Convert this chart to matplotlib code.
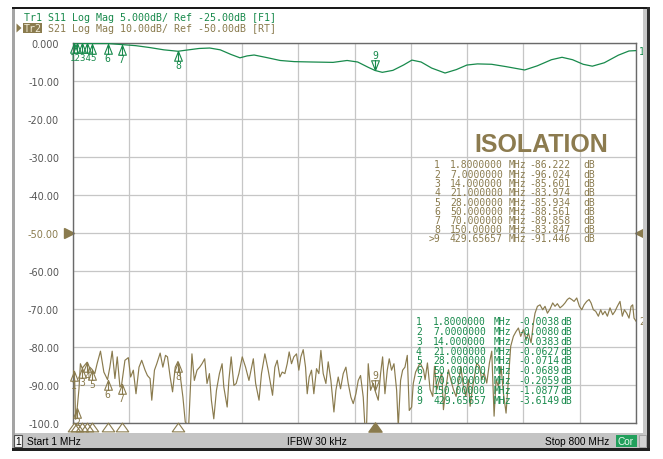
import numpy as np
import matplotlib
matplotlib.use('Agg')
import matplotlib.pyplot as plt
from matplotlib.path import Path
from matplotlib.patches import Rectangle, Polygon
import matplotlib.transforms as mtransforms

# ---------------- data ----------------
start_mhz = 1.0
stop_mhz = 800.0

y_ticks = [0, -10, -20, -30, -40, -50, -60, -70, -80, -90, -100]
y_tick_labels = ["0.000", "-10.00", "-20.00", "-30.00", "-40.00", "-50.00",
                 "-60.00", "-70.00", "-80.00", "-90.00", "-100.0"]

# S11 (Tr1, 5 dB/div, ref -25 dB)
s11_freq = [1, 1.8, 7, 14, 21, 28, 50, 70, 90, 110, 130, 150, 165, 180, 195, 210,
            225, 238, 248, 258, 275, 295, 315, 340, 370, 390, 405, 420, 429.66,
            440, 455, 470, 482, 495, 510, 529, 545, 560, 575, 595, 615, 642, 660,
            680, 695, 710, 725, 738, 755, 775, 790, 800]
s11_db = [0.0, -0.004, -0.008, -0.038, -0.063, -0.071, -0.069, -0.206, -0.35, -0.6,
          -0.9, -1.088, -0.9, -0.72, -0.66, -0.9, -1.5, -1.95, -1.7, -1.58, -1.9,
          -2.3, -2.45, -2.5, -2.55, -2.3, -2.5, -3.2, -3.615, -3.86, -3.6, -2.9,
          -2.25, -2.5, -3.3, -3.95, -3.5, -2.9, -2.75, -2.8, -3.1, -3.55, -3.0,
          -2.2, -1.88, -2.2, -2.8, -3.05, -2.6, -1.6, -1.05, -1.0]

# S21 (Tr2, 10 dB/div, ref -50 dB)
s21_freq = [1.0, 1.8, 3.4, 4.6, 7.0, 9.5, 11.5, 14.0, 17.6, 21.0, 22.6, 24.8, 28.0,
            31.9, 35.2, 40.0, 44.8, 50.0, 53.3, 56.6, 60.5, 63.8, 67.6, 70.0, 74.7,
            79.5, 82.8, 86.6, 90.4, 94.7, 98.5, 103.3, 106.6, 110.4, 112.8, 116.6,
            119.9, 124.7, 128.5, 132.3, 135.1, 138.9, 142.3, 146.1, 150.0, 152.2,
            157.0, 160.3, 165.1, 169.8, 173.2, 177.0, 180.8, 184.1, 187.9, 191.2,
            194.6, 197.4, 200.8, 204.6, 208.8, 212.6, 215.0, 219.8, 222.2, 225.5,
            229.3, 232.6, 236.4, 241.2, 245.9, 250.7, 256.9, 260.2, 265.0, 268.5,
            273.3, 278.0, 281.3, 284.2, 287.5, 290.8, 294.6, 297.9, 301.7, 305.0,
            307.8, 311.1, 314.4, 318.2, 321.5, 324.4, 327.7, 331.0, 333.4, 336.2,
            339.5, 342.8, 346.6, 349.9, 352.8, 356.1, 359.9, 363.2, 367.0, 371.3,
            374.1, 377.4, 380.7, 384.5, 388.3, 391.6, 395.4, 398.7, 402.5, 405.8,
            409.1, 412.9, 415.3, 417.6, 420.0, 423.3, 427.1, 429.66, 434.2, 437.5,
            440.4, 443.7, 447.0, 449.8, 453.1, 456.5, 460.3, 462.6, 465.9, 468.8,
            472.1, 475.4, 478.2, 481.6, 483.9, 487.2, 493.6, 498.4, 500.7, 504.0,
            507.8, 511.6, 514.0, 517.3, 521.1, 524.4, 526.7, 530.0, 533.8, 537.1,
            540.9, 544.7, 548.0, 551.3, 555.1, 558.4, 562.2, 564.6, 568.3, 571.6,
            574.0, 577.8, 581.1, 584.4, 588.2, 592.0, 595.3, 598.6, 601.4, 604.7,
            608.5, 611.8, 615.6, 618.9, 622.2, 626.0, 629.8, 633.1, 636.4, 640.2,
            644.0, 647.3, 651.1, 654.4, 656.7, 660.1, 663.8, 667.6, 670.9, 674.3,
            678.0, 681.8, 685.1, 688.4, 692.2, 696.0, 699.3, 702.6, 705.5, 708.8,
            712.1, 715.9, 719.7, 723.0, 726.3, 730.0, 733.4, 736.2, 739.5, 742.8,
            746.6, 749.9, 752.7, 756.0, 759.4, 763.1, 766.9, 770.2, 773.5, 777.3,
            780.6, 783.5, 786.8, 790.1, 793.0, 795.3, 797.2, 800.0]
s21_db = [-87.0, -86.2, -88.8, -99.0, -96.0, -91.0, -84.4, -85.6, -84.8, -84.0, -87.0,
          -85.3, -85.9, -87.0, -84.4, -81.1, -86.6, -88.6, -85.3, -81.1, -88.3, -82.6,
          -90.5, -89.9, -83.5, -82.8, -87.9, -86.1, -92.3, -85.3, -83.5, -86.1, -87.5,
          -88.3, -94.0, -86.1, -84.4, -81.6, -85.3, -82.2, -82.6, -87.9, -91.8, -85.3,
          -83.8, -86.1, -93.2, -99.7, -101.0, -81.8, -88.8, -86.1, -85.3, -84.4, -83.1,
          -89.6, -87.0, -94.0, -98.9, -91.4, -87.0, -84.4, -90.5, -95.8, -88.8, -82.6,
          -90.1, -89.6, -87.0, -82.6, -85.3, -88.8, -83.1, -89.6, -94.0, -87.0, -81.8,
          -86.1, -89.6, -92.7, -85.3, -83.5, -87.9, -86.6, -87.0, -84.4, -81.3, -84.4,
          -82.6, -81.8, -86.1, -82.6, -80.7, -85.3, -92.3, -87.9, -86.1, -92.3, -85.7,
          -87.0, -80.9, -87.0, -89.6, -83.9, -88.8, -97.1, -91.4, -87.9, -91.0, -87.0,
          -85.3, -89.6, -93.2, -94.9, -92.3, -88.8, -87.5, -93.2, -101.0, -101.0, -84.4,
          -91.4, -89.6, -91.45, -94.0, -87.0, -82.6, -92.3, -86.1, -83.1, -86.1, -84.4,
          -91.4, -101.0, -88.8, -86.1, -85.3, -82.2, -96.7, -95.8, -89.6, -86.6, -84.2,
          -86.0, -88.6, -84.2, -91.2, -93.0, -85.1, -91.2, -88.6, -86.8, -96.5, -91.2,
          -86.0, -88.6, -91.2, -93.0, -89.5, -85.1, -90.4, -93.0, -88.6, -95.6, -90.4,
          -86.8, -84.2, -85.1, -88.6, -86.8, -89.5, -84.2, -81.1, -98.2, -88.6, -90.4,
          -85.1, -92.1, -97.4, -88.6, -79.8, -77.2, -75.9, -75.0, -77.2, -75.4, -78.1,
          -76.3, -78.9, -73.7, -71.1, -69.3, -68.9, -70.2, -69.3, -71.1, -70.0, -68.4,
          -69.3, -68.6, -69.7, -69.1, -68.4, -67.5, -67.1, -67.5, -68.0, -67.1, -69.3,
          -70.2, -68.9, -68.0, -67.5, -68.4, -70.2, -70.6, -71.9, -70.2, -71.5, -70.6,
          -71.9, -69.7, -71.5, -70.6, -69.3, -68.0, -71.9, -70.2, -71.1, -72.4, -69.3,
          -68.9, -72.4, -73.2]

marker_ids = [1, 2, 3, 4, 5, 6, 7, 8, 9]
marker_freq = [1.8, 7.0, 14.0, 21.0, 28.0, 50.0, 70.0, 150.0, 429.65657]
marker_s21 = [-86.222, -96.024, -85.601, -83.974, -85.934, -88.561, -89.858, -83.847, -91.446]
marker_s11 = [-0.0038, -0.0080, -0.0383, -0.0627, -0.0714, -0.0689, -0.2059, -1.0877, -3.6149]
active_marker = 9
s11_grouped_labels = [1, 2, 3, 4, 5]   # drawn as one packed label "12345"

header1 = "Tr1 S11 Log Mag 5.000dB/ Ref -25.00dB [F1]"
header2 = "S21 Log Mag 10.00dB/ Ref -50.00dB [RT]"
title_text = "ISOLATION"

# ---------------- style ----------------
W, H = 663, 460
GREEN = '#188a4c'
OLIVE = '#8a7b4e'
GRID = '#c6c6c6'
MONO = 'DejaVu Sans Mono'


def fx(x):
    return x / W


def fy(y):
    return 1 - y / H


fig = plt.figure(figsize=(W / 100, H / 100), dpi=100)
fig.patch.set_facecolor('white')


def rect(x0, y0, x1, y1, fc, ec='none', lw=0, z=0):
    fig.patches.append(Rectangle((fx(x0), fy(y1)), fx(x1) - fx(x0), fy(y0) - fy(y1),
                                 transform=fig.transFigure, facecolor=fc, edgecolor=ec,
                                 linewidth=lw, zorder=z))


# window frame
rect(12, 7.5, 650, 9.5, '#1a1a1a')
rect(12, 9.5, 15, 452, '#a4a4a4')
rect(643, 9.5, 647, 452, '#c8c8c8')
rect(647, 7.5, 650, 452, '#303030')
rect(15, 434, 643, 449, '#c4c4c4')
rect(12, 449, 650, 452, '#202020')
rect(13.5, 436, 22, 447.5, '#f4f4f4', ec='#505050', lw=0.8, z=2)
fig.text(fx(17.8), fy(442), "1", fontsize=7.3, family='Liberation Sans',
         ha='center', va='center', color='black')
rect(615.5, 436, 636.5, 448, '#22a05c', z=2)
fig.text(fx(626), fy(442.3), "Cor", fontsize=7.3, family='Liberation Sans',
         ha='center', va='center', color='#e8f8ee')
rect(638.5, 436, 645.5, 448, '#d4d4d4', ec='#a0a0a0', lw=0.6, z=2)
fig.text(fx(27), fy(442.3), "Start 1 MHz", fontsize=7.3, family='Liberation Sans',
         ha='left', va='center', color='black')
fig.text(fx(287), fy(442.3), "IFBW 30 kHz", fontsize=7.3, family='Liberation Sans',
         ha='left', va='center', color='black')
fig.text(fx(609), fy(442.3), "Stop 800 MHz", fontsize=7.3, family='Liberation Sans',
         ha='right', va='center', color='black')

# header
fig.text(fx(24), fy(17.8), header1, fontsize=7.2, family=MONO, color=GREEN,
         ha='left', va='center')
rect(23, 23.5, 42, 34, OLIVE, z=2)
fig.text(fx(24), fy(29), "Tr2", fontsize=7.2, family=MONO, color='#f2ecd6',
         ha='left', va='center', zorder=3)
fig.text(fx(48), fy(29), header2, fontsize=7.2, family=MONO, color=OLIVE,
         ha='left', va='center')
fig.patches.append(Polygon([(fx(16.5), fy(24.5)), (fx(21.5), fy(29)), (fx(16.5), fy(33.5))],
                           closed=True, transform=fig.transFigure, facecolor=OLIVE,
                           edgecolor='none'))

# main axes (S21 scale)
ax = fig.add_axes([fx(73), fy(424), fx(636) - fx(73), fy(44) - fy(424)])
ax.set_xlim(start_mhz, stop_mhz)
ax.set_ylim(-100, 0)
ax.set_xticks(np.linspace(start_mhz, stop_mhz, 11))
ax.set_xticklabels([])
ax.set_yticks(y_ticks)
ax.set_yticklabels(y_tick_labels)
ax.grid(True, color=GRID, linewidth=0.9)
ax.set_axisbelow(True)
ax.tick_params(length=0, pad=10, labelsize=7, labelcolor='#555555')
for lab, t in zip(ax.get_yticklabels(), y_ticks):
    if t == -50:
        lab.set_color(OLIVE)
for s in ax.spines.values():
    s.set_color('#6a6a6a')
    s.set_linewidth(1.0)

ax.plot(s21_freq, s21_db, color=OLIVE, lw=0.85, zorder=3)

# S11 on its own scale (5 dB/div, ref -25 at centre)
ax2 = ax.twinx()
ax2.set_ylim(-50, 0)
ax2.set_axis_off()
ax2.plot(s11_freq, s11_db, color=GREEN, lw=0.9, zorder=3)

# marker shapes (apex at the data point)
up = Path([(0, 0), (-0.4, -1), (0.4, -1), (0, 0), (0, 0), (0, -1)],
          [Path.MOVETO, Path.LINETO, Path.LINETO, Path.CLOSEPOLY, Path.MOVETO, Path.LINETO])
down = Path([(0, 0), (-0.4, 1), (0.4, 1), (0, 0), (0, 0), (0, 1)],
            [Path.MOVETO, Path.LINETO, Path.LINETO, Path.CLOSEPOLY, Path.MOVETO, Path.LINETO])


def draw_markers(a, vals, color, grouped=()):
    for mid, f, v in zip(marker_ids, marker_freq, vals):
        if mid == active_marker:
            a.plot([f], [v], marker=down, ms=14, mfc='none', mec=color, mew=0.8,
                   ls='none', zorder=5, clip_on=False)
            a.annotate(str(mid), (f, v), xytext=(0, 15), textcoords='offset pixels',
                       ha='center', va='center', fontsize=7, color=color, family=MONO)
        else:
            a.plot([f], [v], marker=up, ms=14, mfc='none', mec=color, mew=0.8,
                   ls='none', zorder=5, clip_on=False)
            if mid not in grouped:
                a.annotate(str(mid), (f, v), xytext=(0, -14), textcoords='offset pixels',
                           ha='center', va='center', fontsize=7, color=color, family=MONO)
    if grouped:
        idx = [marker_ids.index(m) for m in grouped]
        fc = float(np.mean([marker_freq[i] for i in idx]))
        vc = float(np.mean([vals[i] for i in idx]))
        a.annotate("".join(str(m) for m in grouped), (fc, vc), xytext=(1, -14),
                   textcoords='offset pixels', ha='center', va='center', fontsize=6.6,
                   color=color, family=MONO)


draw_markers(ax2, marker_s11, GREEN, grouped=s11_grouped_labels)
draw_markers(ax, marker_s21, OLIVE)

# trace end labels
ax2.annotate("1", (stop_mhz, s11_db[-1]), xytext=(3, 0), textcoords='offset pixels',
             ha='left', va='center', fontsize=7, color=GREEN, family=MONO,
             annotation_clip=False)
ax.annotate("2", (stop_mhz, s21_db[-1]), xytext=(3, 0), textcoords='offset pixels',
            ha='left', va='center', fontsize=7, color=OLIVE, family=MONO,
            annotation_clip=False)

# marker position indicators below the grid
bt = mtransforms.blended_transform_factory(ax.transData, ax.transAxes)
wide_tri = Path([(0, 0.7), (-1, -0.7), (1, -0.7), (0, 0.7)],
                [Path.MOVETO, Path.LINETO, Path.LINETO, Path.CLOSEPOLY])
for mid, f in zip(marker_ids, marker_freq):
    if mid == active_marker:
        ax.plot([f], [-0.0105], marker=wide_tri, ms=9.5, mfc=OLIVE, mec=OLIVE,
                transform=bt, clip_on=False, zorder=6)
    else:
        ax.plot([f], [-0.0105], marker=wide_tri, ms=9, mfc='none', mec=OLIVE, mew=0.8,
                transform=bt, clip_on=False, zorder=6)

# reference position triangles at -50
rt = mtransforms.blended_transform_factory(ax.transAxes, ax.transData)
ax.plot([-0.0075], [-50], marker='>', ms=7, mfc=OLIVE, mec=OLIVE, transform=rt,
        clip_on=False)
ax.plot([1.0075], [-50], marker='<', ms=7, mfc=OLIVE, mec=OLIVE, transform=rt,
        clip_on=False)

# title
fig.text(fx(541), fy(145), title_text, fontsize=18, family='Liberation Sans',
         fontweight='bold', color='#8c7b4f', ha='center', va='center')


def fstr(f):
    d = len(str(int(f)))
    return f"{f:.{8 - d}f}"


# S21 marker table
for k, (mid, f, v) in enumerate(zip(marker_ids, marker_freq, marker_s21)):
    y = 165.5 + k * 9.25
    num = (">" if mid == active_marker else "") + str(mid)
    kw = dict(fontsize=7, family=MONO, color=OLIVE, va='center')
    fig.text(fx(440), fy(y), num, ha='right', **kw)
    fig.text(fx(450), fy(y), fstr(f), ha='left', **kw)
    fig.text(fx(509), fy(y), "MHz", ha='left', **kw)
    fig.text(fx(529), fy(y), f"{v:.3f}", ha='left', **kw)
    fig.text(fx(583), fy(y), "dB", ha='left', **kw)

# S11 marker table
for k, (mid, f, v) in enumerate(zip(marker_ids, marker_freq, marker_s11)):
    y = 322 + k * 9.87
    kw = dict(fontsize=7, family=MONO, color=GREEN, va='center')
    fig.text(fx(416), fy(y), str(mid), ha='left', **kw)
    fig.text(fx(433), fy(y), fstr(f), ha='left', **kw)
    fig.text(fx(494), fy(y), "MHz", ha='left', **kw)
    fig.text(fx(518), fy(y), f"{v:.4f}", ha='left', **kw)
    fig.text(fx(560), fy(y), "dB", ha='left', **kw)

fig.savefig('out.png', dpi=100, facecolor='white')
